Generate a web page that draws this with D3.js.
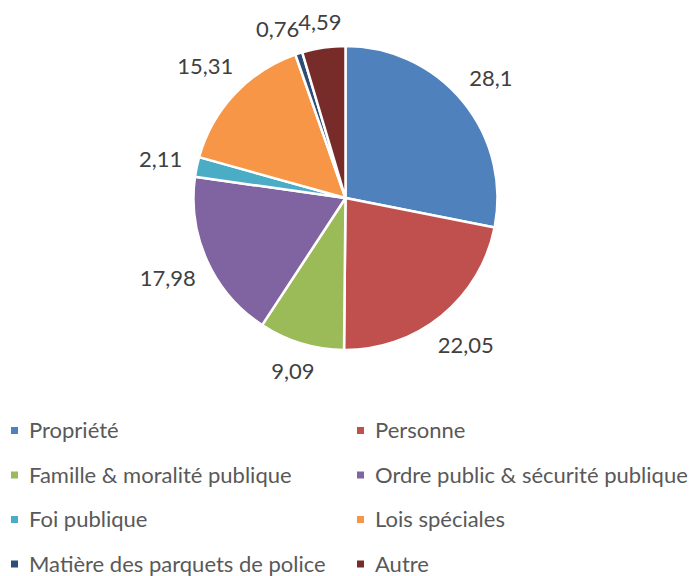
<!DOCTYPE html>
<html>
<head>
<meta charset="utf-8">
<script src="https://cdn.jsdelivr.net/npm/d3@7"></script>
<style>
  body { margin: 0; background: #fff; }
  text { font-family: Lato, "Open Sans", sans-serif; }
</style>
</head>
<body>
<script>
var width = 695, height = 576

var categories = ["Propriété", "Personne", "Famille & moralité publique", "Ordre public & sécurité publique",
                  "Foi publique", "Lois spéciales", "Matière des parquets de police", "Autre"]
var values = [28.1, 22.05, 9.09, 17.98, 2.11, 15.31, 0.76, 4.59]
var labels = ["28,1", "22,05", "9,09", "17,98", "2,11", "15,31", "0,76", "4,59"]
var colors = ["#4F81BD", "#C0504D", "#9BBB59", "#8064A2", "#4BACC6", "#F79646", "#2C4D75", "#772C2A"]

var cx = 345.5, cy = 198, radius = 152
var fontSize = 22

var svg = d3.select("body").append("svg")
    .attr("width", width)
    .attr("height", height)

var pie = d3.pie().sort(null).value(function(d) { return d })
var arcs = pie(values)

var arc = d3.arc().innerRadius(0).outerRadius(radius)

var g = svg.append("g")
    .attr("transform", "translate(" + cx + "," + cy + ")")

g.selectAll("path")
  .data(arcs)
  .enter().append("path")
    .attr("d", arc)
    .attr("fill", function(d, i) { return colors[i] })
    .attr("stroke", "#fff")
    .attr("stroke-width", 2.5)
    .attr("stroke-linejoin", "round")

// data labels, pushed outside the pie depending on their size
var lab = g.selectAll(".lab")
  .data(arcs)
  .enter().append("text")
    .attr("class", "lab")
    .attr("text-anchor", "middle")
    .attr("dy", "0.35em")
    .attr("fill", "#404040")
    .style("font-size", fontSize + "px")
    .text(function(d, i) { return labels[i] })

var boxes = []
function place(node, a) {
  var w = node.getBBox().width, h = fontSize * 0.8
  var s = Math.sin(a), c = Math.cos(a)
  var r = radius + 14 + w / 2 * Math.abs(s) + h / 2 * Math.abs(c)
  var x = r * s, y = -r * c
  d3.select(node).attr("x", x).attr("y", y)
  return {x0: x - w / 2, x1: x + w / 2, y0: y - h / 2, y1: y + h / 2, a: a}
}
lab.each(function(d, i) {
  boxes[i] = place(this, (d.startAngle + d.endAngle) / 2)
})
function overlap(p, q) {
  return p.x0 < q.x1 - 2 && q.x0 < p.x1 - 2 && p.y0 < q.y1 && q.y0 < p.y1
}
// small slices at the top: nudge the earlier label back along the circle
var nodes = lab.nodes()
for (var i = nodes.length - 1; i > 0; i--) {
  var n = 0
  while (overlap(boxes[i - 1], boxes[i]) && n < 80) {
    boxes[i - 1] = place(nodes[i - 1], boxes[i - 1].a - Math.PI / 360)
    n++
  }
}

// legend, two columns
var legend = svg.append("g")
var item = legend.selectAll("g")
  .data(categories)
  .enter().append("g")
    .attr("transform", function(d, i) {
      var col = i % 2, row = Math.floor(i / 2)
      return "translate(" + (col == 0 ? 11 : 357) + "," + (430.5 + row * 44.5) + ")"
    })

item.append("rect")
    .attr("x", 0).attr("y", -3.5)
    .attr("width", 7).attr("height", 7)
    .attr("fill", function(d, i) { return colors[i] })

item.append("text")
    .attr("x", 18)
    .attr("dy", "0.35em")
    .attr("fill", "#595959")
    .style("font-size", fontSize + "px")
    .text(function(d) { return d })
</script>
</body>
</html>
